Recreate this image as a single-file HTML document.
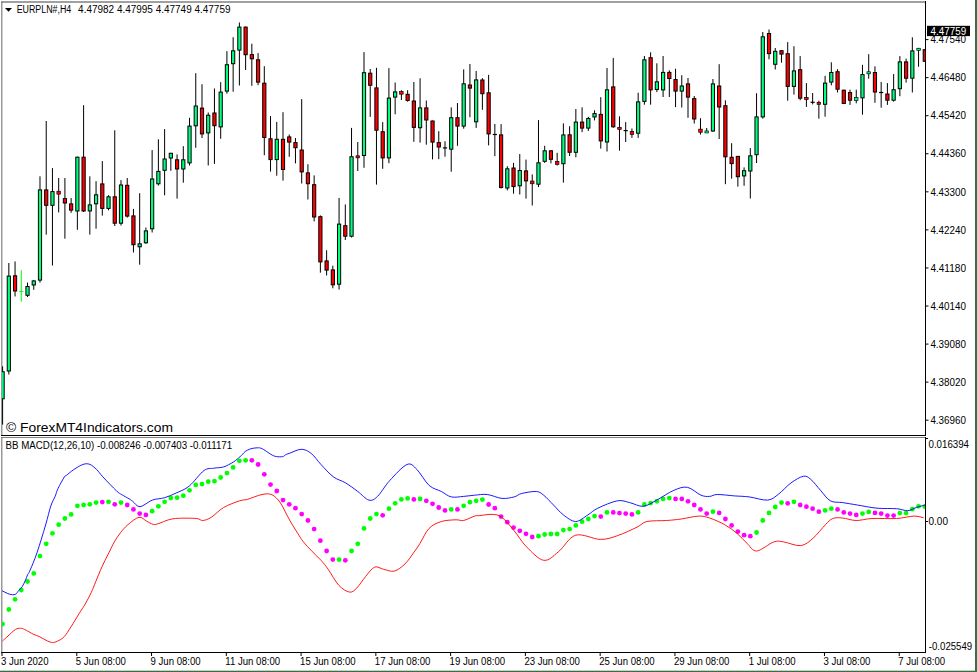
<!DOCTYPE html>
<html><head><meta charset="utf-8"><style>
html,body{margin:0;padding:0;background:#fff;}
body{width:977px;height:672px;overflow:hidden;position:relative;}
svg{position:absolute;left:0;top:0;}
text{font-family:"Liberation Sans",sans-serif;font-size:10px;fill:#000;}
</style></head><body>
<svg width="977" height="672" viewBox="0 0 977 672">
<rect x="0" y="0" width="977" height="672" fill="#fff"/>
<!-- main window border -->
<line x1="1.2" y1="2" x2="926" y2="2" stroke="#808080" stroke-width="1.3"/><line x1="1.8" y1="1.3" x2="1.8" y2="436" stroke="#808080" stroke-width="1.2"/>
<line x1="1" y1="435.5" x2="926" y2="435.5" stroke="#000" stroke-width="1"/>
<line x1="925.5" y1="1" x2="925.5" y2="436" stroke="#000" stroke-width="1"/>
<!-- indicator window border -->
<line x1="1.8" y1="437" x2="1.8" y2="653" stroke="#808080" stroke-width="1.2"/>
<line x1="1" y1="437.5" x2="926" y2="437.5" stroke="#808080" stroke-width="1"/>
<line x1="1" y1="652.5" x2="926" y2="652.5" stroke="#000" stroke-width="1"/>
<line x1="925.5" y1="437" x2="925.5" y2="653" stroke="#000" stroke-width="1"/>
<svg x="2" y="2" width="923" height="433" viewBox="2 2 923 433" overflow="hidden">
<g stroke="#000" stroke-width="1.0">
<line x1="2.6" y1="366.3" x2="2.6" y2="424.6"/><line x1="8.83" y1="263" x2="8.83" y2="374.5"/><line x1="15.06" y1="261.4" x2="15.06" y2="296.5"/><line x1="21.29" y1="270.2" x2="21.29" y2="301.7" stroke="#00FF00" stroke-width="1.0"/><line x1="19.29" y1="291.4" x2="23.29" y2="291.4" stroke="#00FF00" stroke-width="1.0"/><line x1="27.52" y1="282.6" x2="27.52" y2="297"/><line x1="33.76" y1="280.2" x2="33.76" y2="289.8"/><line x1="39.99" y1="176.3" x2="39.99" y2="282.6"/><line x1="46.22" y1="121" x2="46.22" y2="234.7"/><line x1="52.45" y1="168.1" x2="52.45" y2="265.5"/><line x1="58.68" y1="178" x2="58.68" y2="212.4"/><line x1="64.91" y1="178" x2="64.91" y2="238.7"/><line x1="71.14" y1="198.1" x2="71.14" y2="212.8"/><line x1="77.37" y1="156.7" x2="77.37" y2="229.8"/><line x1="83.6" y1="105.2" x2="83.6" y2="212"/><line x1="89.83" y1="176.3" x2="89.83" y2="234.6"/><line x1="96.06" y1="181.2" x2="96.06" y2="228.7"/><line x1="102.3" y1="161.1" x2="102.3" y2="215.6"/><line x1="108.53" y1="195.2" x2="108.53" y2="210.3"/><line x1="114.76" y1="130.3" x2="114.76" y2="226"/><line x1="120.99" y1="180.1" x2="120.99" y2="225.5"/><line x1="127.22" y1="178" x2="127.22" y2="217.6"/><line x1="133.45" y1="208.9" x2="133.45" y2="252.5"/><line x1="139.68" y1="193.2" x2="139.68" y2="264.7"/><line x1="145.91" y1="227.5" x2="145.91" y2="243.8"/><line x1="152.14" y1="150.1" x2="152.14" y2="232.5"/><line x1="158.38" y1="139.3" x2="158.38" y2="185.6"/><line x1="164.61" y1="129.1" x2="164.61" y2="195.3"/><line x1="170.84" y1="152.8" x2="170.84" y2="170.8"/><line x1="177.07" y1="154.4" x2="177.07" y2="198.6"/><line x1="183.3" y1="146.2" x2="183.3" y2="182.7"/><line x1="189.53" y1="117.8" x2="189.53" y2="165.5"/><line x1="195.76" y1="73.2" x2="195.76" y2="147.8"/><line x1="201.99" y1="84.2" x2="201.99" y2="138"/><line x1="208.22" y1="112.5" x2="208.22" y2="165.5"/><line x1="214.45" y1="88.5" x2="214.45" y2="163.9"/><line x1="220.69" y1="82.2" x2="220.69" y2="138.8"/><line x1="226.92" y1="51.1" x2="226.92" y2="93.7"/><line x1="233.15" y1="37.2" x2="233.15" y2="91.7"/><line x1="239.38" y1="22.5" x2="239.38" y2="85.5"/><line x1="245.61" y1="26.6" x2="245.61" y2="70"/><line x1="251.84" y1="43.7" x2="251.84" y2="85.8"/><line x1="258.07" y1="53.1" x2="258.07" y2="85.2"/><line x1="264.3" y1="66.2" x2="264.3" y2="155.2"/><line x1="270.53" y1="116.1" x2="270.53" y2="171.6"/><line x1="276.76" y1="121.9" x2="276.76" y2="175.7"/><line x1="283" y1="112.2" x2="283" y2="180.6"/><line x1="289.23" y1="134.5" x2="289.23" y2="156.8"/><line x1="295.46" y1="138" x2="295.46" y2="163.4"/><line x1="301.69" y1="99.1" x2="301.69" y2="183.5"/><line x1="307.92" y1="164.2" x2="307.92" y2="199.5"/><line x1="314.15" y1="175.4" x2="314.15" y2="221.4"/><line x1="320.38" y1="215.4" x2="320.38" y2="272.7"/><line x1="326.61" y1="250.3" x2="326.61" y2="275.5"/><line x1="332.84" y1="265.7" x2="332.84" y2="288.3"/><line x1="339.07" y1="197.9" x2="339.07" y2="289.6"/><line x1="345.31" y1="204.4" x2="345.31" y2="240"/><line x1="351.54" y1="127.9" x2="351.54" y2="237.5"/><line x1="357.77" y1="142" x2="357.77" y2="171"/><line x1="364" y1="52.1" x2="364" y2="167.8"/><line x1="370.23" y1="69" x2="370.23" y2="116.9"/><line x1="376.46" y1="67.8" x2="376.46" y2="184.6"/><line x1="382.69" y1="122.1" x2="382.69" y2="168.8"/><line x1="388.92" y1="68.1" x2="388.92" y2="163.2"/><line x1="395.15" y1="82.5" x2="395.15" y2="114.3"/><line x1="401.38" y1="90.2" x2="401.38" y2="100"/><line x1="407.62" y1="90.2" x2="407.62" y2="101.7"/><line x1="413.85" y1="82" x2="413.85" y2="141.8"/><line x1="420.08" y1="78.3" x2="420.08" y2="142.6"/><line x1="426.31" y1="100.5" x2="426.31" y2="144.7"/><line x1="432.54" y1="120.5" x2="432.54" y2="159.4"/><line x1="438.77" y1="131.2" x2="438.77" y2="159.2"/><line x1="445" y1="141.3" x2="445" y2="156.7"/><line x1="451.23" y1="107.4" x2="451.23" y2="171.7"/><line x1="457.46" y1="103" x2="457.46" y2="145.8"/><line x1="463.69" y1="69.4" x2="463.69" y2="128.7"/><line x1="469.93" y1="64" x2="469.93" y2="117.2"/><line x1="476.16" y1="71" x2="476.16" y2="127.9"/><line x1="482.39" y1="78.2" x2="482.39" y2="109.8"/><line x1="488.62" y1="74.9" x2="488.62" y2="145.4"/><line x1="494.85" y1="124" x2="494.85" y2="156.2"/><line x1="501.08" y1="124.1" x2="501.08" y2="188.5"/><line x1="507.31" y1="166.2" x2="507.31" y2="190.4"/><line x1="513.54" y1="162.9" x2="513.54" y2="193.7"/><line x1="519.77" y1="154.1" x2="519.77" y2="194.5"/><line x1="526" y1="159.6" x2="526" y2="198.6"/><line x1="532.24" y1="174.4" x2="532.24" y2="205.5"/><line x1="538.47" y1="120.1" x2="538.47" y2="187.1"/><line x1="544.7" y1="145.8" x2="544.7" y2="162.9"/><line x1="550.93" y1="150.3" x2="550.93" y2="163.4"/><line x1="557.16" y1="152.8" x2="557.16" y2="165.5"/><line x1="563.39" y1="123.4" x2="563.39" y2="182.6"/><line x1="569.62" y1="126.2" x2="569.62" y2="156"/><line x1="575.85" y1="109" x2="575.85" y2="157.3"/><line x1="582.08" y1="107.3" x2="582.08" y2="132.2"/><line x1="588.31" y1="116.8" x2="588.31" y2="131"/><line x1="594.54" y1="110.3" x2="594.54" y2="120.4"/><line x1="600.78" y1="97.2" x2="600.78" y2="148.6"/><line x1="607.01" y1="68" x2="607.01" y2="151.5"/><line x1="613.24" y1="57.9" x2="613.24" y2="127.8"/><line x1="619.47" y1="116.3" x2="619.47" y2="150.7"/><line x1="625.7" y1="122.1" x2="625.7" y2="142"/><line x1="631.93" y1="128.5" x2="631.93" y2="137.8"/><line x1="638.16" y1="92.7" x2="638.16" y2="137.9"/><line x1="644.39" y1="56" x2="644.39" y2="104.7"/><line x1="650.62" y1="52.3" x2="650.62" y2="104.7"/><line x1="656.86" y1="63.3" x2="656.86" y2="92.1"/><line x1="663.09" y1="56" x2="663.09" y2="97"/><line x1="669.32" y1="70.3" x2="669.32" y2="97"/><line x1="675.55" y1="68.7" x2="675.55" y2="107.1"/><line x1="681.78" y1="75.2" x2="681.78" y2="107.5"/><line x1="688.01" y1="78" x2="688.01" y2="117.8"/><line x1="694.24" y1="96" x2="694.24" y2="123.5"/><line x1="700.47" y1="118.2" x2="700.47" y2="134.6"/><line x1="706.7" y1="128" x2="706.7" y2="132.5"/><line x1="712.93" y1="79" x2="712.93" y2="131.8"/><line x1="719.16" y1="64.2" x2="719.16" y2="139"/><line x1="725.4" y1="100.3" x2="725.4" y2="184.2"/><line x1="731.63" y1="143.2" x2="731.63" y2="178.7"/><line x1="737.86" y1="155.9" x2="737.86" y2="186.6"/><line x1="744.09" y1="167.4" x2="744.09" y2="185.8"/><line x1="750.32" y1="148.1" x2="750.32" y2="198.5"/><line x1="756.55" y1="93.2" x2="756.55" y2="163"/><line x1="762.78" y1="32" x2="762.78" y2="118.6"/><line x1="769.01" y1="29.5" x2="769.01" y2="59.3"/><line x1="775.24" y1="48" x2="775.24" y2="69.5"/><line x1="781.48" y1="50.2" x2="781.48" y2="62.7"/><line x1="787.71" y1="42.1" x2="787.71" y2="100.7"/><line x1="793.94" y1="46.2" x2="793.94" y2="94.6"/><line x1="800.17" y1="56.1" x2="800.17" y2="100.3"/><line x1="806.4" y1="83.1" x2="806.4" y2="106.9"/><line x1="812.63" y1="93" x2="812.63" y2="104.4"/><line x1="818.86" y1="100.7" x2="818.86" y2="118.7"/><line x1="825.09" y1="75.8" x2="825.09" y2="116.7"/><line x1="831.32" y1="62.3" x2="831.32" y2="85.3"/><line x1="837.55" y1="69.2" x2="837.55" y2="92.5"/><line x1="843.78" y1="89.7" x2="843.78" y2="104"/><line x1="850.02" y1="89.7" x2="850.02" y2="104.9"/><line x1="856.25" y1="89.7" x2="856.25" y2="103.3"/><line x1="862.48" y1="64.8" x2="862.48" y2="114.7"/><line x1="868.71" y1="54.2" x2="868.71" y2="78.7"/><line x1="874.94" y1="66.3" x2="874.94" y2="102.8"/><line x1="881.17" y1="82" x2="881.17" y2="107.7"/><line x1="887.4" y1="83.1" x2="887.4" y2="104.9"/><line x1="893.63" y1="74.1" x2="893.63" y2="101.6"/><line x1="899.86" y1="56.1" x2="899.86" y2="96.2"/><line x1="906.1" y1="58.6" x2="906.1" y2="82.6"/><line x1="912.33" y1="37.3" x2="912.33" y2="92.5"/><line x1="918.56" y1="47.9" x2="918.56" y2="66.8"/><line x1="924.79" y1="49.2" x2="924.79" y2="61.8"/>
</g>
<g stroke="#000" stroke-width="1.0">
<rect x="1" y="371.7" width="3.2" height="27.1" fill="#00FF7F"/><rect x="7.23" y="276.1" width="3.2" height="94.9" fill="#00FF7F"/><rect x="13.46" y="275.8" width="3.2" height="15.2" fill="#FF0000"/><rect x="25.92" y="286.5" width="3.2" height="8.8" fill="#00FF7F"/><rect x="32.16" y="280.9" width="3.2" height="4.1" fill="#00FF7F"/><rect x="38.39" y="189.9" width="3.2" height="90.2" fill="#00FF7F"/><rect x="44.62" y="189.9" width="3.2" height="15.4" fill="#FF0000"/><rect x="50.85" y="191.6" width="3.2" height="13.7" fill="#00FF7F"/><rect x="56.9" y="191.22" width="3.55" height="2.95" fill="#FF0000" stroke-width="0.65"/><rect x="63.31" y="198.6" width="3.2" height="4.4" fill="#FF0000"/><rect x="69.54" y="203.9" width="3.2" height="6.2" fill="#FF0000"/><rect x="75.77" y="157.2" width="3.2" height="53.8" fill="#00FF7F"/><rect x="82" y="157.2" width="3.2" height="53.8" fill="#FF0000"/><rect x="88.23" y="204.9" width="3.2" height="6" fill="#00FF7F"/><rect x="94.47" y="194.8" width="3.2" height="9" fill="#00FF7F"/><rect x="100.7" y="183.9" width="3.2" height="24.5" fill="#FF0000"/><rect x="106.93" y="196.8" width="3.2" height="11.6" fill="#00FF7F"/><rect x="113.16" y="196.8" width="3.2" height="26.4" fill="#FF0000"/><rect x="119.39" y="185" width="3.2" height="38.2" fill="#00FF7F"/><rect x="125.62" y="185.3" width="3.2" height="30.8" fill="#FF0000"/><rect x="131.85" y="215.9" width="3.2" height="28.8" fill="#FF0000"/><rect x="138.08" y="243.8" width="3.2" height="3" fill="#00FF7F"/><rect x="144.31" y="230.9" width="3.2" height="11.9" fill="#00FF7F"/><rect x="150.54" y="179" width="3.2" height="49.8" fill="#00FF7F"/><rect x="156.78" y="171.4" width="3.2" height="12.4" fill="#00FF7F"/><rect x="163.01" y="159" width="3.2" height="11.3" fill="#00FF7F"/><rect x="169.24" y="153.3" width="3.2" height="4.7" fill="#00FF7F"/><rect x="175.47" y="159.8" width="3.2" height="9.2" fill="#FF0000"/><rect x="181.7" y="159.8" width="3.2" height="9.2" fill="#00FF7F"/><rect x="187.93" y="126.1" width="3.2" height="36.8" fill="#00FF7F"/><rect x="194.16" y="106" width="3.2" height="19.8" fill="#00FF7F"/><rect x="200.39" y="108.1" width="3.2" height="25.8" fill="#FF0000"/><rect x="206.62" y="115.2" width="3.2" height="17.7" fill="#00FF7F"/><rect x="212.85" y="113" width="3.2" height="12.7" fill="#FF0000"/><rect x="219.09" y="92.1" width="3.2" height="34.8" fill="#00FF7F"/><rect x="225.32" y="64.7" width="3.2" height="26.4" fill="#00FF7F"/><rect x="231.55" y="50.8" width="3.2" height="12.9" fill="#00FF7F"/><rect x="237.78" y="27.1" width="3.2" height="23" fill="#00FF7F"/><rect x="244.01" y="27.1" width="3.2" height="27.6" fill="#FF0000"/><rect x="250.24" y="54.6" width="3.2" height="4.2" fill="#FF0000"/><rect x="256.47" y="59.8" width="3.2" height="22.3" fill="#FF0000"/><rect x="262.7" y="83.2" width="3.2" height="54.3" fill="#FF0000"/><rect x="268.93" y="138.8" width="3.2" height="20.8" fill="#FF0000"/><rect x="275.16" y="139.3" width="3.2" height="20.3" fill="#00FF7F"/><rect x="281.39" y="139.3" width="3.2" height="30.2" fill="#FF0000"/><rect x="287.63" y="136.9" width="3.2" height="5.2" fill="#FF0000"/><rect x="293.86" y="142.6" width="3.2" height="5.1" fill="#FF0000"/><rect x="300.09" y="150" width="3.2" height="21.9" fill="#FF0000"/><rect x="306.32" y="172.9" width="3.2" height="10.8" fill="#FF0000"/><rect x="312.55" y="184.7" width="3.2" height="32.3" fill="#FF0000"/><rect x="318.78" y="216.7" width="3.2" height="45.2" fill="#FF0000"/><rect x="325.01" y="260.9" width="3.2" height="9.2" fill="#FF0000"/><rect x="331.24" y="269.9" width="3.2" height="14.9" fill="#FF0000"/><rect x="337.47" y="224.1" width="3.2" height="60.1" fill="#00FF7F"/><rect x="343.7" y="225.7" width="3.2" height="10.5" fill="#FF0000"/><rect x="349.94" y="156.7" width="3.2" height="79.5" fill="#00FF7F"/><rect x="355.99" y="155.78" width="3.55" height="2.05" fill="#FF0000" stroke-width="0.65"/><rect x="362.4" y="72.7" width="3.2" height="82.8" fill="#00FF7F"/><rect x="368.63" y="73.2" width="3.2" height="12.1" fill="#FF0000"/><rect x="374.86" y="87.9" width="3.2" height="42.3" fill="#FF0000"/><rect x="381.09" y="131.7" width="3.2" height="26.2" fill="#FF0000"/><rect x="387.32" y="98.1" width="3.2" height="59.8" fill="#00FF7F"/><rect x="393.55" y="91.9" width="3.2" height="5.2" fill="#00FF7F"/><rect x="399.61" y="91.53" width="3.55" height="2.65" fill="#FF0000" stroke-width="0.65"/><rect x="406.01" y="94.3" width="3.2" height="6.1" fill="#FF0000"/><rect x="412.25" y="101" width="3.2" height="26.4" fill="#FF0000"/><rect x="418.48" y="107.9" width="3.2" height="19.8" fill="#00FF7F"/><rect x="424.71" y="107.9" width="3.2" height="12.1" fill="#FF0000"/><rect x="430.94" y="121" width="3.2" height="21.1" fill="#FF0000"/><rect x="437.17" y="142.6" width="3.2" height="4.4" fill="#FF0000"/><line x1="442.9" y1="147.9" x2="447.1" y2="147.9" stroke="#000" stroke-width="1.2"/><rect x="449.63" y="117.7" width="3.2" height="31.5" fill="#00FF7F"/><rect x="455.86" y="117.7" width="3.2" height="8.4" fill="#FF0000"/><rect x="462.09" y="83.8" width="3.2" height="42.3" fill="#00FF7F"/><rect x="468.32" y="85" width="3.2" height="3.1" fill="#FF0000"/><rect x="474.56" y="79.9" width="3.2" height="41.9" fill="#00FF7F"/><rect x="480.79" y="80" width="3.2" height="13.7" fill="#FF0000"/><rect x="487.02" y="92.8" width="3.2" height="41.1" fill="#FF0000"/><line x1="492.75" y1="134.5" x2="496.95" y2="134.5" stroke="#000" stroke-width="1.2"/><rect x="499.48" y="134.9" width="3.2" height="52.6" fill="#FF0000"/><rect x="505.71" y="168.8" width="3.2" height="19.2" fill="#00FF7F"/><rect x="511.94" y="168" width="3.2" height="18.6" fill="#FF0000"/><rect x="518.17" y="170.5" width="3.2" height="15.3" fill="#00FF7F"/><rect x="524.4" y="170.9" width="3.2" height="10" fill="#FF0000"/><rect x="530.46" y="181.03" width="3.55" height="2.75" fill="#FF0000" stroke-width="0.65"/><rect x="536.87" y="162.8" width="3.2" height="21.4" fill="#00FF7F"/><rect x="543.1" y="150.8" width="3.2" height="10.5" fill="#00FF7F"/><rect x="549.33" y="150.8" width="3.2" height="8.5" fill="#FF0000"/><rect x="555.38" y="161.43" width="3.55" height="2.95" fill="#FF0000" stroke-width="0.65"/><rect x="561.79" y="134.9" width="3.2" height="28.8" fill="#00FF7F"/><rect x="568.02" y="134.8" width="3.2" height="17.5" fill="#FF0000"/><rect x="574.25" y="122.1" width="3.2" height="30.2" fill="#00FF7F"/><rect x="580.48" y="122.1" width="3.2" height="6" fill="#FF0000"/><rect x="586.71" y="118.5" width="3.2" height="9.6" fill="#00FF7F"/><rect x="592.94" y="113.6" width="3.2" height="3.4" fill="#00FF7F"/><rect x="599.18" y="114.4" width="3.2" height="26.5" fill="#FF0000"/><rect x="605.41" y="89.8" width="3.2" height="52.2" fill="#00FF7F"/><rect x="611.64" y="86.9" width="3.2" height="39.9" fill="#FF0000"/><rect x="617.69" y="127.33" width="3.55" height="2.05" fill="#FF0000" stroke-width="0.65"/><line x1="623.6" y1="130.6" x2="627.8" y2="130.6" stroke="#000" stroke-width="1.2"/><rect x="630.16" y="131.32" width="3.55" height="3.05" fill="#FF0000" stroke-width="0.65"/><rect x="636.56" y="101.9" width="3.2" height="31.3" fill="#00FF7F"/><rect x="642.79" y="59.8" width="3.2" height="41.6" fill="#00FF7F"/><rect x="649.02" y="57.7" width="3.2" height="32.2" fill="#FF0000"/><rect x="655.25" y="81.8" width="3.2" height="7.7" fill="#00FF7F"/><rect x="661.49" y="72.4" width="3.2" height="17.5" fill="#00FF7F"/><rect x="667.72" y="72.4" width="3.2" height="6.1" fill="#FF0000"/><rect x="673.95" y="79.5" width="3.2" height="11.6" fill="#FF0000"/><rect x="680.18" y="86" width="3.2" height="5.1" fill="#00FF7F"/><rect x="686.41" y="83.9" width="3.2" height="13.2" fill="#FF0000"/><rect x="692.64" y="98.6" width="3.2" height="20.4" fill="#FF0000"/><rect x="698.7" y="129.12" width="3.55" height="3.15" fill="#FF0000" stroke-width="0.65"/><rect x="704.93" y="130.92" width="3.55" height="2.05" fill="#00FF7F" stroke-width="0.65"/><rect x="711.33" y="83.9" width="3.2" height="47.1" fill="#00FF7F"/><rect x="717.56" y="86" width="3.2" height="21" fill="#FF0000"/><rect x="723.8" y="105.7" width="3.2" height="51.1" fill="#FF0000"/><rect x="730.03" y="157.3" width="3.2" height="6.3" fill="#FF0000"/><rect x="736.26" y="156.4" width="3.2" height="20.3" fill="#FF0000"/><rect x="742.49" y="170.7" width="3.2" height="5.2" fill="#00FF7F"/><rect x="748.72" y="155.8" width="3.2" height="15.2" fill="#00FF7F"/><rect x="754.95" y="116.9" width="3.2" height="37.8" fill="#00FF7F"/><rect x="761.18" y="36.8" width="3.2" height="80.1" fill="#00FF7F"/><rect x="767.41" y="33.5" width="3.2" height="20.1" fill="#FF0000"/><rect x="773.64" y="51.3" width="3.2" height="13" fill="#00FF7F"/><rect x="779.88" y="50.7" width="3.2" height="3.4" fill="#FF0000"/><rect x="786.11" y="53.7" width="3.2" height="32.7" fill="#FF0000"/><rect x="792.34" y="70.9" width="3.2" height="15.5" fill="#00FF7F"/><rect x="798.57" y="69.7" width="3.2" height="28.5" fill="#FF0000"/><rect x="804.62" y="97.43" width="3.55" height="2.05" fill="#FF0000" stroke-width="0.65"/><line x1="810.53" y1="102.3" x2="814.73" y2="102.3" stroke="#000" stroke-width="1.2"/><rect x="817.09" y="102.33" width="3.55" height="2.05" fill="#FF0000" stroke-width="0.65"/><rect x="823.49" y="83.1" width="3.2" height="21.2" fill="#00FF7F"/><rect x="829.72" y="72.5" width="3.2" height="9.6" fill="#00FF7F"/><rect x="835.95" y="71.7" width="3.2" height="17.5" fill="#FF0000"/><rect x="842.18" y="90.2" width="3.2" height="13.2" fill="#FF0000"/><rect x="848.42" y="92.6" width="3.2" height="7.6" fill="#FF0000"/><rect x="854.47" y="97.53" width="3.55" height="3.05" fill="#00FF7F" stroke-width="0.65"/><rect x="860.88" y="74.6" width="3.2" height="23.3" fill="#00FF7F"/><rect x="866.93" y="71.78" width="3.55" height="2.05" fill="#00FF7F" stroke-width="0.65"/><rect x="873.34" y="72.5" width="3.2" height="19.5" fill="#FF0000"/><line x1="879.07" y1="92.5" x2="883.27" y2="92.5" stroke="#000" stroke-width="1.2"/><rect x="885.8" y="94" width="3.2" height="6.2" fill="#FF0000"/><rect x="892.03" y="89.7" width="3.2" height="10.5" fill="#00FF7F"/><rect x="898.26" y="61.9" width="3.2" height="26.8" fill="#00FF7F"/><rect x="904.5" y="61.9" width="3.2" height="16.3" fill="#FF0000"/><rect x="910.73" y="50.9" width="3.2" height="27.3" fill="#00FF7F"/><rect x="916.78" y="48.27" width="3.55" height="2.05" fill="#00FF7F" stroke-width="0.65"/><rect x="923.19" y="49.7" width="3.2" height="11.6" fill="#FF0000"/>
</g>
</svg>
<svg x="2" y="438" width="923" height="214" viewBox="2 438 923 214" overflow="hidden">
<circle cx="2.6" cy="624.1" r="2.4" fill="#00FF00"/><circle cx="8.83" cy="609.5" r="2.4" fill="#00FF00"/><circle cx="15.06" cy="599.3" r="2.4" fill="#00FF00"/><circle cx="21.29" cy="590" r="2.4" fill="#00FF00"/><circle cx="27.52" cy="581.5" r="2.4" fill="#00FF00"/><circle cx="33.76" cy="573.4" r="2.4" fill="#00FF00"/><circle cx="39.99" cy="556.1" r="2.4" fill="#00FF00"/><circle cx="46.22" cy="543.8" r="2.4" fill="#00FF00"/><circle cx="52.45" cy="533.3" r="2.4" fill="#00FF00"/><circle cx="58.68" cy="524.7" r="2.4" fill="#00FF00"/><circle cx="64.91" cy="518.5" r="2.4" fill="#00FF00"/><circle cx="71.14" cy="514.4" r="2.4" fill="#00FF00"/><circle cx="77.37" cy="505.8" r="2.4" fill="#00FF00"/><circle cx="83.6" cy="505" r="2.4" fill="#00FF00"/><circle cx="89.83" cy="504.3" r="2.4" fill="#00FF00"/><circle cx="96.06" cy="502.6" r="2.4" fill="#00FF00"/><circle cx="102.3" cy="502.1" r="2.4" fill="#FF00FF"/><circle cx="108.53" cy="501.8" r="2.4" fill="#00FF00"/><circle cx="114.76" cy="504.3" r="2.4" fill="#FF00FF"/><circle cx="120.99" cy="502.6" r="2.4" fill="#00FF00"/><circle cx="127.22" cy="505" r="2.4" fill="#FF00FF"/><circle cx="133.45" cy="509.4" r="2.4" fill="#FF00FF"/><circle cx="139.68" cy="513.6" r="2.4" fill="#FF00FF"/><circle cx="145.91" cy="514.9" r="2.4" fill="#FF00FF"/><circle cx="152.14" cy="511.2" r="2.4" fill="#00FF00"/><circle cx="158.38" cy="506.3" r="2.4" fill="#00FF00"/><circle cx="164.61" cy="501.8" r="2.4" fill="#00FF00"/><circle cx="170.84" cy="498.1" r="2.4" fill="#00FF00"/><circle cx="177.07" cy="497.7" r="2.4" fill="#00FF00"/><circle cx="183.3" cy="495.7" r="2.4" fill="#00FF00"/><circle cx="189.53" cy="490.3" r="2.4" fill="#00FF00"/><circle cx="195.76" cy="484.9" r="2.4" fill="#00FF00"/><circle cx="201.99" cy="484.1" r="2.4" fill="#00FF00"/><circle cx="208.22" cy="481.7" r="2.4" fill="#00FF00"/><circle cx="214.45" cy="481.2" r="2.4" fill="#00FF00"/><circle cx="220.69" cy="477.5" r="2.4" fill="#00FF00"/><circle cx="226.92" cy="473.1" r="2.4" fill="#00FF00"/><circle cx="233.15" cy="467.4" r="2.4" fill="#00FF00"/><circle cx="239.38" cy="460.8" r="2.4" fill="#00FF00"/><circle cx="245.61" cy="460.3" r="2.4" fill="#00FF00"/><circle cx="251.84" cy="460.3" r="2.4" fill="#FF00FF"/><circle cx="258.07" cy="464.5" r="2.4" fill="#FF00FF"/><circle cx="264.3" cy="474.3" r="2.4" fill="#FF00FF"/><circle cx="270.53" cy="484.6" r="2.4" fill="#FF00FF"/><circle cx="276.76" cy="491" r="2.4" fill="#FF00FF"/><circle cx="283" cy="500.1" r="2.4" fill="#FF00FF"/><circle cx="289.23" cy="504.3" r="2.4" fill="#FF00FF"/><circle cx="295.46" cy="508.2" r="2.4" fill="#FF00FF"/><circle cx="301.69" cy="514.1" r="2.4" fill="#FF00FF"/><circle cx="307.92" cy="520.5" r="2.4" fill="#FF00FF"/><circle cx="314.15" cy="529.1" r="2.4" fill="#FF00FF"/><circle cx="320.38" cy="540.7" r="2.4" fill="#FF00FF"/><circle cx="326.61" cy="551" r="2.4" fill="#FF00FF"/><circle cx="332.84" cy="559.6" r="2.4" fill="#FF00FF"/><circle cx="339.07" cy="559.6" r="2.4" fill="#00FF00"/><circle cx="345.31" cy="560.3" r="2.4" fill="#FF00FF"/><circle cx="351.54" cy="551" r="2.4" fill="#00FF00"/><circle cx="357.77" cy="543.8" r="2.4" fill="#00FF00"/><circle cx="364" cy="528.4" r="2.4" fill="#00FF00"/><circle cx="370.23" cy="518.5" r="2.4" fill="#00FF00"/><circle cx="376.46" cy="514.1" r="2.4" fill="#00FF00"/><circle cx="382.69" cy="515.3" r="2.4" fill="#FF00FF"/><circle cx="388.92" cy="508.7" r="2.4" fill="#00FF00"/><circle cx="395.15" cy="503.3" r="2.4" fill="#00FF00"/><circle cx="401.38" cy="499.4" r="2.4" fill="#00FF00"/><circle cx="407.62" cy="498.4" r="2.4" fill="#00FF00"/><circle cx="413.85" cy="499.4" r="2.4" fill="#FF00FF"/><circle cx="420.08" cy="498.9" r="2.4" fill="#00FF00"/><circle cx="426.31" cy="500.8" r="2.4" fill="#FF00FF"/><circle cx="432.54" cy="503.8" r="2.4" fill="#FF00FF"/><circle cx="438.77" cy="507.5" r="2.4" fill="#FF00FF"/><circle cx="445" cy="510.4" r="2.4" fill="#FF00FF"/><circle cx="451.23" cy="509.4" r="2.4" fill="#00FF00"/><circle cx="457.46" cy="509.4" r="2.4" fill="#FF00FF"/><circle cx="463.69" cy="505.8" r="2.4" fill="#00FF00"/><circle cx="469.93" cy="502.2" r="2.4" fill="#00FF00"/><circle cx="476.16" cy="500.8" r="2.4" fill="#00FF00"/><circle cx="482.39" cy="499.6" r="2.4" fill="#00FF00"/><circle cx="488.62" cy="504.5" r="2.4" fill="#FF00FF"/><circle cx="494.85" cy="508.2" r="2.4" fill="#FF00FF"/><circle cx="501.08" cy="516.6" r="2.4" fill="#FF00FF"/><circle cx="507.31" cy="522.2" r="2.4" fill="#FF00FF"/><circle cx="513.54" cy="527.6" r="2.4" fill="#FF00FF"/><circle cx="519.77" cy="530.8" r="2.4" fill="#FF00FF"/><circle cx="526" cy="533.8" r="2.4" fill="#FF00FF"/><circle cx="532.24" cy="537" r="2.4" fill="#FF00FF"/><circle cx="538.47" cy="536.2" r="2.4" fill="#00FF00"/><circle cx="544.7" cy="534.5" r="2.4" fill="#00FF00"/><circle cx="550.93" cy="534" r="2.4" fill="#00FF00"/><circle cx="557.16" cy="534" r="2.4" fill="#00FF00"/><circle cx="563.39" cy="530.1" r="2.4" fill="#00FF00"/><circle cx="569.62" cy="529.1" r="2.4" fill="#00FF00"/><circle cx="575.85" cy="525.4" r="2.4" fill="#00FF00"/><circle cx="582.08" cy="521.7" r="2.4" fill="#00FF00"/><circle cx="588.31" cy="519" r="2.4" fill="#00FF00"/><circle cx="594.54" cy="516.1" r="2.4" fill="#00FF00"/><circle cx="600.78" cy="516.6" r="2.4" fill="#FF00FF"/><circle cx="607.01" cy="512.4" r="2.4" fill="#00FF00"/><circle cx="613.24" cy="512.4" r="2.4" fill="#FF00FF"/><circle cx="619.47" cy="513.1" r="2.4" fill="#FF00FF"/><circle cx="625.7" cy="513.6" r="2.4" fill="#FF00FF"/><circle cx="631.93" cy="514.4" r="2.4" fill="#FF00FF"/><circle cx="638.16" cy="512.4" r="2.4" fill="#00FF00"/><circle cx="644.39" cy="504.5" r="2.4" fill="#00FF00"/><circle cx="650.62" cy="503.1" r="2.4" fill="#00FF00"/><circle cx="656.86" cy="501.3" r="2.4" fill="#00FF00"/><circle cx="663.09" cy="498.9" r="2.4" fill="#00FF00"/><circle cx="669.32" cy="498.1" r="2.4" fill="#00FF00"/><circle cx="675.55" cy="498.9" r="2.4" fill="#FF00FF"/><circle cx="681.78" cy="498.9" r="2.4" fill="#FF00FF"/><circle cx="688.01" cy="501.3" r="2.4" fill="#FF00FF"/><circle cx="694.24" cy="505" r="2.4" fill="#FF00FF"/><circle cx="700.47" cy="509.4" r="2.4" fill="#FF00FF"/><circle cx="706.7" cy="513.6" r="2.4" fill="#FF00FF"/><circle cx="712.93" cy="511.7" r="2.4" fill="#00FF00"/><circle cx="719.16" cy="512.9" r="2.4" fill="#FF00FF"/><circle cx="725.4" cy="519" r="2.4" fill="#FF00FF"/><circle cx="731.63" cy="525.4" r="2.4" fill="#FF00FF"/><circle cx="737.86" cy="531.6" r="2.4" fill="#FF00FF"/><circle cx="744.09" cy="535.2" r="2.4" fill="#FF00FF"/><circle cx="750.32" cy="536.2" r="2.4" fill="#FF00FF"/><circle cx="756.55" cy="532.5" r="2.4" fill="#00FF00"/><circle cx="762.78" cy="520.5" r="2.4" fill="#00FF00"/><circle cx="769.01" cy="512.9" r="2.4" fill="#00FF00"/><circle cx="775.24" cy="507" r="2.4" fill="#00FF00"/><circle cx="781.48" cy="502.6" r="2.4" fill="#00FF00"/><circle cx="787.71" cy="503.3" r="2.4" fill="#FF00FF"/><circle cx="793.94" cy="501.8" r="2.4" fill="#00FF00"/><circle cx="800.17" cy="505" r="2.4" fill="#FF00FF"/><circle cx="806.4" cy="506.7" r="2.4" fill="#FF00FF"/><circle cx="812.63" cy="508.7" r="2.4" fill="#FF00FF"/><circle cx="818.86" cy="511.7" r="2.4" fill="#FF00FF"/><circle cx="825.09" cy="510.4" r="2.4" fill="#00FF00"/><circle cx="831.32" cy="508.7" r="2.4" fill="#00FF00"/><circle cx="837.55" cy="509.4" r="2.4" fill="#FF00FF"/><circle cx="843.78" cy="512.4" r="2.4" fill="#FF00FF"/><circle cx="850.02" cy="513.6" r="2.4" fill="#FF00FF"/><circle cx="856.25" cy="514.9" r="2.4" fill="#FF00FF"/><circle cx="862.48" cy="513.6" r="2.4" fill="#00FF00"/><circle cx="868.71" cy="511.9" r="2.4" fill="#00FF00"/><circle cx="874.94" cy="512.9" r="2.4" fill="#FF00FF"/><circle cx="881.17" cy="513.6" r="2.4" fill="#FF00FF"/><circle cx="887.4" cy="515.6" r="2.4" fill="#FF00FF"/><circle cx="893.63" cy="515.6" r="2.4" fill="#FF00FF"/><circle cx="899.86" cy="513.1" r="2.4" fill="#00FF00"/><circle cx="906.1" cy="513.1" r="2.4" fill="#00FF00"/><circle cx="912.33" cy="509.2" r="2.4" fill="#00FF00"/><circle cx="918.56" cy="506.3" r="2.4" fill="#00FF00"/><circle cx="924.79" cy="506.7" r="2.4" fill="#00FF00"/>
<path d="M1.2,590.3 C2.55,590.93 6.97,593.42 9.3,594.1 C11.63,594.78 13.65,594.98 15.2,594.4 C16.75,593.82 17.42,591.92 18.6,590.6 C19.78,589.28 21.13,588.3 22.3,586.5 C23.47,584.7 24.73,581.72 25.6,579.8 C26.47,577.88 26.73,576.63 27.5,575 C28.27,573.37 28.63,573.67 30.2,570 C31.77,566.33 34.33,560.5 36.9,553 C39.47,545.5 43.28,532.83 45.6,525 C47.92,517.17 49.23,510.72 50.8,506 C52.37,501.28 53.78,499.65 55,496.7 C56.22,493.75 56.53,491.6 58.1,488.3 C59.67,485 63,479.07 64.4,476.9 C65.8,474.73 64.94,476.52 66.5,475.3 C68.06,474.08 70.98,471.42 73.75,469.6 C76.52,467.78 80.41,465.27 83.1,464.4 C85.79,463.53 87.63,463.53 89.9,464.4 C92.17,465.27 94.53,467.52 96.7,469.6 C98.87,471.68 99.6,473.35 102.9,476.9 C106.2,480.45 113.37,487.95 116.5,490.9 C119.63,493.85 119.62,493.29 121.7,494.6 C123.78,495.91 127.17,497.63 129,498.75 C130.83,499.87 130.87,499.98 132.7,501.3 C134.53,502.62 136.73,506.9 140,506.7 C143.27,506.5 148.2,501.6 152.3,500.1 C156.4,498.6 160.5,498.93 164.6,497.7 C168.7,496.47 172.8,494.63 176.9,492.7 C181,490.77 184.7,489.78 189.2,486.1 C193.7,482.42 199.8,473.58 203.9,470.6 C208,467.62 210.52,468.82 213.8,468.2 C217.08,467.58 220.33,467.93 223.6,466.9 C226.87,465.87 230.67,463.7 233.4,462 C236.13,460.3 238.47,457.98 240,456.7 C241.53,455.42 241.73,455.17 242.6,454.3 C243.47,453.43 243.9,452.4 245.2,451.5 C246.5,450.6 248.4,449.52 250.4,448.9 C252.4,448.28 255.28,447.85 257.2,447.8 C259.12,447.75 260.08,447.82 261.9,448.6 C263.72,449.38 266.33,451.38 268.1,452.5 C269.87,453.62 271.1,454.62 272.5,455.3 C273.9,455.98 274.8,456.38 276.5,456.6 C278.2,456.82 281.15,456.93 282.7,456.6 C284.25,456.27 284.67,455.15 285.8,454.6 C286.93,454.05 286.92,454.18 289.5,453.3 C292.08,452.42 297.68,449.28 301.3,449.3 C304.92,449.32 307.92,450.87 311.2,453.4 C314.48,455.93 317.32,460.6 321,464.5 C324.68,468.4 329.2,473.73 333.3,476.8 C337.4,479.87 341.52,480.45 345.6,482.9 C349.68,485.35 353.92,488.63 357.8,491.5 C361.68,494.37 365.62,499.28 368.9,500.1 C372.18,500.92 374.02,499.67 377.5,496.4 C380.98,493.13 384.88,485.82 389.8,480.5 C394.72,475.18 402.5,466.35 407,464.5 C411.5,462.65 413.12,465.92 416.8,469.4 C420.48,472.88 425,481.72 429.1,485.4 C433.2,489.08 437.72,489.58 441.4,491.5 C445.08,493.42 447.52,496.08 451.2,496.9 C454.88,497.72 459.6,496.68 463.5,496.4 C467.4,496.12 470.65,495.52 474.6,495.2 C478.55,494.88 482.63,493.97 487.2,494.5 C491.77,495.03 497.5,498 502,498.4 C506.5,498.8 510.93,497.72 514.2,496.9 C517.47,496.08 517.92,494.4 521.6,493.5 C525.28,492.6 532.62,491.22 536.3,491.5 C539.98,491.78 540.83,492.95 543.7,495.2 C546.57,497.45 550.22,501.72 553.5,505 C556.78,508.28 559.7,512.15 563.4,514.9 C567.1,517.65 571.62,521.5 575.7,521.5 C579.78,521.5 584.22,517.12 587.9,514.9 C591.58,512.68 592.88,510.55 597.8,508.2 C602.72,505.85 612.08,501.73 617.4,500.8 C622.72,499.87 625.4,501.68 629.7,502.6 C634,503.52 638.7,506.72 643.2,506.3 C647.7,505.88 651.58,502.77 656.7,500.1 C661.82,497.43 668.78,492.43 673.9,490.3 C679.02,488.17 682.88,486.48 687.4,487.3 C691.92,488.12 697.3,493.68 701,495.2 C704.7,496.72 706.88,496.52 709.6,496.4 C712.32,496.28 713.15,494.58 717.3,494.5 C721.45,494.42 729.18,495.5 734.5,495.9 C739.82,496.3 743.67,496.2 749.2,496.9 C754.73,497.6 762.78,500.58 767.7,500.1 C772.62,499.62 774.82,496.87 778.7,494 C782.58,491.13 786.9,485.85 791,482.9 C795.1,479.95 800.03,476.92 803.3,476.3 C806.57,475.68 807.73,476.87 810.6,479.2 C813.47,481.53 817.22,486.7 820.5,490.3 C823.78,493.9 826.62,498.75 830.3,500.8 C833.98,502.85 838.1,501.9 842.6,502.6 C847.1,503.3 851.57,504.07 857.3,505 C863.03,505.93 870.45,507.58 877,508.2 C883.55,508.82 891.48,508.28 896.6,508.7 C901.72,509.12 904.42,510.9 907.7,510.7 C910.98,510.5 913.43,508.45 916.3,507.5 C919.17,506.55 923.47,505.42 924.9,505" fill="none" stroke="#0000FF" stroke-width="0.9"/>
<path d="M2.5,641 C3.42,640.17 5.85,637.92 8,636 C10.15,634.08 13.33,630.78 15.4,629.5 C17.47,628.22 18.85,628.3 20.4,628.3 C21.95,628.3 22.55,628.52 24.7,629.5 C26.85,630.48 30.83,633 33.3,634.2 C35.77,635.4 37.13,635.57 39.5,636.7 C41.87,637.83 45.33,640.03 47.5,641 C49.67,641.97 50.85,642.47 52.5,642.5 C54.15,642.53 55.45,642.17 57.4,641.2 C59.35,640.23 61.93,639.1 64.2,636.7 C66.47,634.3 68.53,630.62 71,626.8 C73.47,622.98 76.63,617.6 79,613.8 C81.37,610 83.13,607.6 85.2,604 C87.27,600.4 89.63,595.95 91.4,592.2 C93.17,588.45 94.03,585.75 95.8,581.5 C97.57,577.25 99.95,571.23 102,566.7 C104.05,562.17 106.05,558.42 108.1,554.3 C110.15,550.18 112.23,545.6 114.3,542 C116.37,538.4 118.23,535.58 120.5,532.7 C122.77,529.82 124.82,527.27 127.9,524.7 C130.98,522.13 135.92,517.92 139,517.3 C142.08,516.68 144.03,519.82 146.4,521 C148.77,522.18 151.13,523.98 153.2,524.4 C155.27,524.82 156.23,524.27 158.8,523.5 C161.37,522.73 165.32,520.67 168.6,519.8 C171.88,518.93 173.83,518.52 178.5,518.3 C183.17,518.08 192.57,518.13 196.6,518.5 C200.63,518.87 200.25,520.7 202.7,520.5 C205.15,520.3 207.82,519.47 211.3,517.3 C214.78,515.13 218.88,510.25 223.6,507.5 C228.32,504.75 235.65,502.15 239.6,500.8 C243.55,499.45 243.57,500.45 247.3,499.4 C251.03,498.35 257.9,495.28 262,494.5 C266.1,493.72 268.9,493.42 271.9,494.7 C274.9,495.98 277.75,499.3 280,502.2 C282.25,505.1 283.62,508.8 285.4,512.1 C287.18,515.4 288.62,518.42 290.7,522 C292.78,525.58 295.82,530.33 297.9,533.6 C299.98,536.87 300.83,538.63 303.2,541.6 C305.57,544.57 309.12,548.27 312.1,551.4 C315.08,554.53 318.42,557.42 321.1,560.4 C323.78,563.38 325.23,565.13 328.2,569.3 C331.17,573.47 335.33,581.6 338.9,585.4 C342.47,589.2 346.62,591.67 349.6,592.1 C352.58,592.53 354.12,590.62 356.8,588 C359.48,585.38 362.73,579.88 365.7,576.4 C368.67,572.92 371.62,568.28 374.6,567.1 C377.58,565.92 380.32,568.63 383.6,569.3 C386.88,569.97 390.73,572 394.3,571.1 C397.87,570.2 401.73,567.03 405,563.9 C408.27,560.77 411.4,555.72 413.9,552.3 C416.4,548.88 417.47,547.38 420,543.4 C422.53,539.42 425.53,532.05 429.1,528.4 C432.67,524.75 436.9,522.93 441.4,521.5 C445.9,520.07 452.42,519.97 456.1,519.8 C459.78,519.63 460.42,521.12 463.5,520.5 C466.58,519.88 471.88,516.92 474.6,516.1 C477.32,515.28 476.88,515.88 479.8,515.6 C482.72,515.32 488.42,514.12 492.1,514.4 C495.78,514.68 498.22,514.57 501.9,517.3 C505.58,520.03 510.1,525.88 514.2,530.8 C518.3,535.72 521.58,541.88 526.5,546.8 C531.42,551.72 538.37,559.48 543.7,560.3 C549.03,561.12 553.17,555.88 558.5,551.7 C563.83,547.52 568.75,537.25 575.7,535.2 C582.65,533.15 593.25,539.32 600.2,539.4 C607.15,539.48 611.25,537.75 617.4,535.7 C623.55,533.65 632.18,529.47 637.1,527.1 C642.02,524.73 641.98,522.6 646.9,521.5 C651.82,520.4 660.87,520.92 666.6,520.5 C672.33,520.08 675.98,519.73 681.3,519 C686.62,518.27 693.78,516.27 698.5,516.1 C703.22,515.93 705.23,516.57 709.6,518 C713.97,519.43 720.15,522.15 724.7,524.7 C729.25,527.25 733.22,530.23 736.9,533.3 C740.58,536.37 743.52,540.15 746.8,543.1 C750.08,546.05 752.1,551.2 756.6,551 C761.1,550.8 769.3,543.42 773.8,541.9 C778.3,540.38 779.1,541.28 783.6,541.9 C788.1,542.52 795.88,546.22 800.8,545.6 C805.72,544.98 809,541.68 813.1,538.2 C817.2,534.72 822.12,527.98 825.4,524.7 C828.68,521.42 829.93,519.62 832.8,518.5 C835.67,517.38 838.72,517.67 842.6,518 C846.48,518.33 851.18,520.42 856.1,520.5 C861.02,520.58 865.35,518.83 872.1,518.5 C878.85,518.17 889.65,518.9 896.6,518.5 C903.55,518.1 909.28,516.22 913.8,516.1 C918.32,515.98 922.05,517.52 923.7,517.8" fill="none" stroke="#FF0000" stroke-width="0.9"/>
</svg>
<!-- header -->
<path d="M5,8 L12,8 L8.5,11.8 Z" fill="#000"/>
<text x="16.7" y="13" textLength="54.6" lengthAdjust="spacingAndGlyphs">EURPLN#,H4</text><text x="78.1" y="13" textLength="152.4" lengthAdjust="spacingAndGlyphs">4.47982 4.47995 4.47749 4.47759</text>
<text x="6" y="432" style="font-size:13.5px" textLength="167" lengthAdjust="spacingAndGlyphs">© ForexMT4Indicators.com</text>
<text x="5.6" y="449" textLength="226.6" lengthAdjust="spacingAndGlyphs">BB MACD(12,26,10) -0.008246 -0.007403 -0.011171</text>
<line x1="925" y1="39.6" x2="928.5" y2="39.6" stroke="#000" stroke-width="1"/><text x="930.4" y="43" textLength="35.6" lengthAdjust="spacingAndGlyphs">4.47540</text><line x1="925" y1="77.66" x2="928.5" y2="77.66" stroke="#000" stroke-width="1"/><text x="930.4" y="81" textLength="35.6" lengthAdjust="spacingAndGlyphs">4.46480</text><line x1="925" y1="115.72" x2="928.5" y2="115.72" stroke="#000" stroke-width="1"/><text x="930.4" y="119" textLength="35.6" lengthAdjust="spacingAndGlyphs">4.45420</text><line x1="925" y1="153.78" x2="928.5" y2="153.78" stroke="#000" stroke-width="1"/><text x="930.4" y="157" textLength="35.6" lengthAdjust="spacingAndGlyphs">4.44360</text><line x1="925" y1="191.84" x2="928.5" y2="191.84" stroke="#000" stroke-width="1"/><text x="930.4" y="196" textLength="35.6" lengthAdjust="spacingAndGlyphs">4.43300</text><line x1="925" y1="229.9" x2="928.5" y2="229.9" stroke="#000" stroke-width="1"/><text x="930.4" y="234" textLength="35.6" lengthAdjust="spacingAndGlyphs">4.42240</text><line x1="925" y1="267.96" x2="928.5" y2="267.96" stroke="#000" stroke-width="1"/><text x="930.4" y="272" textLength="35.6" lengthAdjust="spacingAndGlyphs">4.41180</text><line x1="925" y1="306.02" x2="928.5" y2="306.02" stroke="#000" stroke-width="1"/><text x="930.4" y="310" textLength="35.6" lengthAdjust="spacingAndGlyphs">4.40140</text><line x1="925" y1="344.08" x2="928.5" y2="344.08" stroke="#000" stroke-width="1"/><text x="930.4" y="348" textLength="35.6" lengthAdjust="spacingAndGlyphs">4.39080</text><line x1="925" y1="382.14" x2="928.5" y2="382.14" stroke="#000" stroke-width="1"/><text x="930.4" y="386" textLength="35.6" lengthAdjust="spacingAndGlyphs">4.38020</text><line x1="925" y1="420.2" x2="928.5" y2="420.2" stroke="#000" stroke-width="1"/><text x="930.4" y="424" textLength="35.6" lengthAdjust="spacingAndGlyphs">4.36960</text><line x1="2" y1="652" x2="2" y2="656" stroke="#000" stroke-width="1"/><text x="1" y="665" textLength="47.5" lengthAdjust="spacingAndGlyphs">3 Jun 2020</text><line x1="76.77" y1="652" x2="76.77" y2="656" stroke="#000" stroke-width="1"/><text x="75.77" y="665" textLength="50.17" lengthAdjust="spacingAndGlyphs">5 Jun 08:00</text><line x1="151.54" y1="652" x2="151.54" y2="656" stroke="#000" stroke-width="1"/><text x="150.54" y="665" textLength="50.17" lengthAdjust="spacingAndGlyphs">9 Jun 08:00</text><line x1="226.31" y1="652" x2="226.31" y2="656" stroke="#000" stroke-width="1"/><text x="225.31" y="665" textLength="54.8" lengthAdjust="spacingAndGlyphs">11 Jun 08:00</text><line x1="301.08" y1="652" x2="301.08" y2="656" stroke="#000" stroke-width="1"/><text x="300.08" y="665" textLength="55.51" lengthAdjust="spacingAndGlyphs">15 Jun 08:00</text><line x1="375.85" y1="652" x2="375.85" y2="656" stroke="#000" stroke-width="1"/><text x="374.85" y="665" textLength="55.51" lengthAdjust="spacingAndGlyphs">17 Jun 08:00</text><line x1="450.62" y1="652" x2="450.62" y2="656" stroke="#000" stroke-width="1"/><text x="449.62" y="665" textLength="55.51" lengthAdjust="spacingAndGlyphs">19 Jun 08:00</text><line x1="525.39" y1="652" x2="525.39" y2="656" stroke="#000" stroke-width="1"/><text x="524.39" y="665" textLength="55.51" lengthAdjust="spacingAndGlyphs">23 Jun 08:00</text><line x1="600.16" y1="652" x2="600.16" y2="656" stroke="#000" stroke-width="1"/><text x="599.16" y="665" textLength="55.51" lengthAdjust="spacingAndGlyphs">25 Jun 08:00</text><line x1="674.93" y1="652" x2="674.93" y2="656" stroke="#000" stroke-width="1"/><text x="673.93" y="665" textLength="55.51" lengthAdjust="spacingAndGlyphs">29 Jun 08:00</text><line x1="749.7" y1="652" x2="749.7" y2="656" stroke="#000" stroke-width="1"/><text x="748.7" y="665" textLength="46.96" lengthAdjust="spacingAndGlyphs">1 Jul 08:00</text><line x1="824.47" y1="652" x2="824.47" y2="656" stroke="#000" stroke-width="1"/><text x="823.47" y="665" textLength="46.96" lengthAdjust="spacingAndGlyphs">3 Jul 08:00</text><line x1="899.24" y1="652" x2="899.24" y2="656" stroke="#000" stroke-width="1"/><text x="898.24" y="665" textLength="46.96" lengthAdjust="spacingAndGlyphs">7 Jul 08:00</text>
<!-- current price label -->
<rect x="927" y="25.8" width="43" height="10.3" fill="#000"/>
<text x="930.6" y="35" fill="#fff" style="fill:#fff" textLength="35.6" lengthAdjust="spacingAndGlyphs">4.47759</text>
<!-- indicator axis -->
<line x1="925" y1="438.5" x2="928" y2="438.5" stroke="#000" stroke-width="1"/>
<line x1="925" y1="521.5" x2="928" y2="521.5" stroke="#000" stroke-width="1"/>
<text x="928.5" y="448" textLength="40.5" lengthAdjust="spacingAndGlyphs">0.016394</text>
<text x="928.5" y="525.2">0.00</text>
<text x="928.8" y="649.8" textLength="43.4" lengthAdjust="spacingAndGlyphs">-0.025549</text>
<!-- outer green frame -->
<rect x="975" y="0" width="2" height="672" fill="#3A6E42"/>
<rect x="0" y="670.7" width="977" height="1.3" fill="#3A6E42"/>
</svg>
</body></html>
